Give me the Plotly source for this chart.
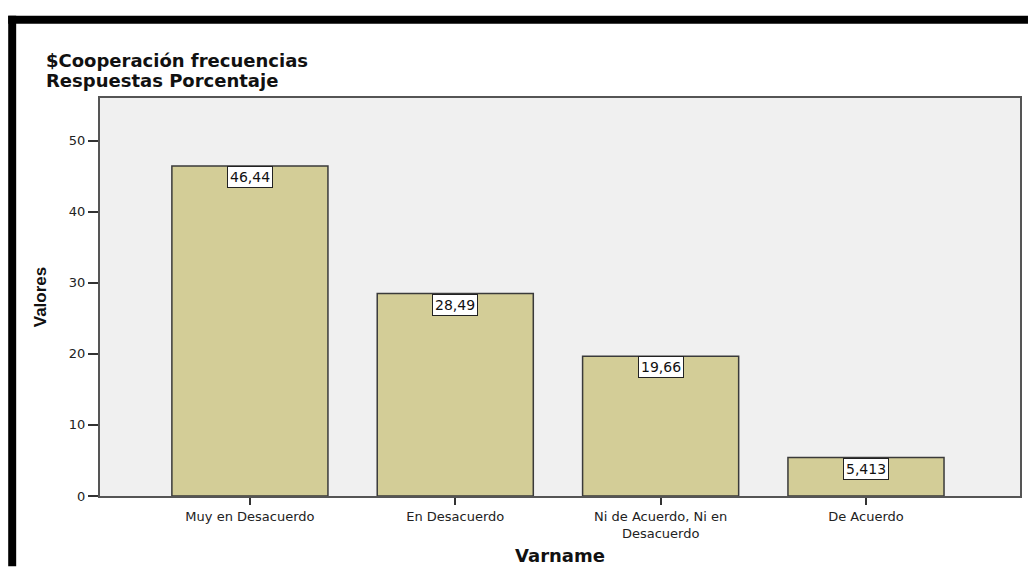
import plotly.graph_objects as go

categories = ["Muy en Desacuerdo", "En Desacuerdo", "Ni de Acuerdo, Ni en<br>Desacuerdo", "De Acuerdo"]
values = [46.44, 28.49, 19.66, 5.413]
value_labels = ["46,44", "28,49", "19,66", "5,413"]
y_ticks = [0, 10, 20, 30, 40, 50]
title_lines = ["$Cooperación frecuencias", "Respuestas Porcentaje"]

x_idx = list(range(len(categories)))

L, R, T, B = 100, 8, 98, 71
W, H = 1030, 571
pw, ph = W - L - R, H - T - B

def px(xp):
    return (xp - L) / pw

def py(yp):
    return (H - B - yp) / ph

fig = go.Figure()
fig.add_trace(go.Bar(
    x=x_idx, y=values, width=0.76,
    marker=dict(color="#D3CD97", line=dict(color="#3a3a3a", width=1.5)),
    hoverinfo="skip",
))

for xi, v, lab in zip(x_idx, values, value_labels):
    fig.add_annotation(
        x=xi, y=v, xref="x", yref="y", text=lab, showarrow=False,
        yanchor="top", xanchor="center",
        font=dict(family="DejaVu Sans", size=14, color="#111"),
        bgcolor="white", bordercolor="#222", borderwidth=1, borderpad=2,
    )

for line, yc in zip(title_lines, [60, 80]):
    fig.add_annotation(x=px(44), y=py(yc), xref="paper", yref="paper",
                       text=f"<b>{line}</b>", showarrow=False,
                       xanchor="left", yanchor="middle",
                       font=dict(family="DejaVu Sans", size=18, color="#111"))

# Black frame (decoration)
fig.add_shape(type="rect", xref="paper", yref="paper",
              x0=px(8), x1=px(1030), y0=py(23), y1=py(15),
              fillcolor="black", line=dict(width=0), layer="above")
fig.add_shape(type="rect", xref="paper", yref="paper",
              x0=px(8), x1=px(16), y0=py(571), y1=py(15),
              fillcolor="black", line=dict(width=0), layer="above")

fig.update_layout(
    width=W, height=H,
    margin=dict(l=L, r=R, t=T, b=B, pad=0),
    paper_bgcolor="white", plot_bgcolor="#F0F0F0",
    showlegend=False,
    xaxis=dict(
        range=[-0.73, 3.75], tickmode="array", tickvals=x_idx, ticktext=categories,
        ticks="outside", ticklen=7, tickwidth=1.5, tickcolor="#333",
        showline=True, linecolor="#555", linewidth=2, mirror=True,
        showgrid=False, zeroline=False,
        tickfont=dict(family="DejaVu Sans", size=13, color="#222"),
        title=dict(text="<b>Varname</b>", font=dict(family="DejaVu Sans", size=18, color="#111"), standoff=10),
    ),
    yaxis=dict(
        range=[0, 56], tickmode="array", tickvals=y_ticks,
        ticks="outside", ticklen=10, tickwidth=1.5, tickcolor="#333",
        showline=True, linecolor="#555", linewidth=2, mirror=True,
        showgrid=False, zeroline=False,
        tickfont=dict(family="DejaVu Sans", size=13, color="#222"),
        title=dict(text="<b>Valores</b>", font=dict(family="Liberation Sans Narrow, Arial Narrow, Liberation Sans", size=17, color="#111"), standoff=18),
    ),
)

fig.write_html("out.html", config={"displayModeBar": False},
               post_script="document.body.style.margin='0';document.body.style.overflow='hidden';")
